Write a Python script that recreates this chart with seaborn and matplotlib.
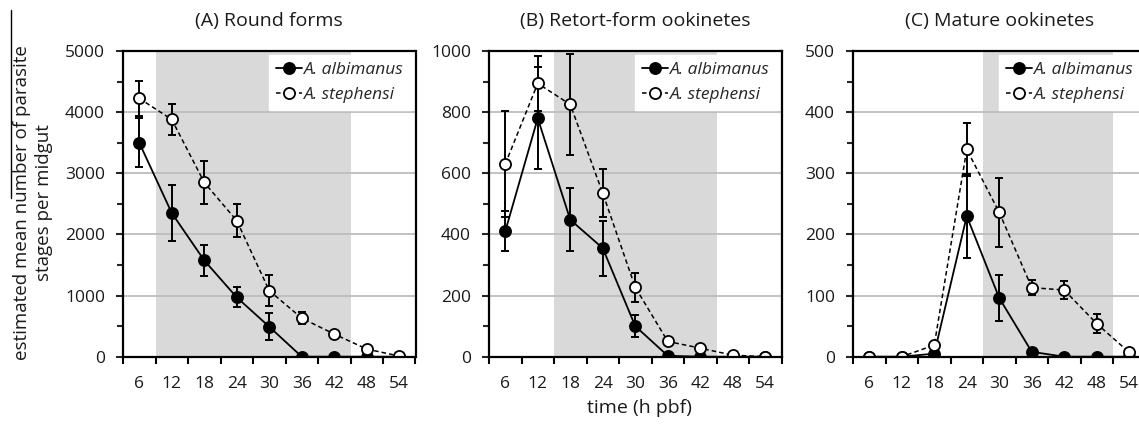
import numpy as np
import pandas as pd
import matplotlib
matplotlib.use("Agg")
import matplotlib.pyplot as plt
from matplotlib.lines import Line2D
from matplotlib.ticker import MultipleLocator, FixedLocator, NullFormatter
import seaborn as sns

# ---------------- data ----------------
hours = [6, 12, 18, 24, 30, 36, 42, 48, 54]

A_alb = [3500, 2350, 1575, 970, 490, 0, 0, 0, 0]
A_alb_err = [400, 460, 260, 165, 220, 0, 0, 0, 0]
A_ste = [4225, 3880, 2850, 2225, 1080, 630, 370, 125, 10]
A_ste_err = [290, 255, 355, 275, 250, 100, 45, 35, 0]

B_alb = [410, 780, 448, 355, 100, 3, 0, 0, 0]
B_alb_err = [65, 167, 103, 90, 35, 0, 0, 0, 0]
B_ste = [630, 894, 825, 535, 227, 50, 28, 5, 0]
B_ste_err = [173, 90, 165, 78, 48, 8, 5, 0, 0]

C_alb = [0, 0, 5, 230, 96, 8, 0, 0, 0]
C_alb_err = [0, 0, 3, 69, 37, 3, 0, 0, 0]
C_ste = [0, 0, 19, 339, 236, 113, 109, 54, 7]
C_ste_err = [0, 0, 4, 44, 57, 12, 14, 16, 3]

titles = ["(A) Round forms", "(B) Retort-form ookinetes", "(C) Mature ookinetes"]
ymax = [5000, 1000, 500]
ymajor = [1000, 200, 100]
yminor = [500, 100, 50]
shade = [(9, 45), (15, 45), (27, 51)]
series_names = ["A. albimanus", "A. stephensi"]
xlabel = "time (h pbf)"
ylabel = "estimated mean number of parasite\nstages per midgut"

# ---------------- style ----------------
sns.set_style("ticks")
plt.rcParams['font.family'] = ['Open Sans', 'DejaVu Sans']

W, H = 1139, 426
fig = plt.figure(figsize=(W / 100, H / 100), dpi=100)

lefts = [123, 489, 853]
ax_w = 292.5
ax_bottom = 356.7
ax_h = 305.7

panels = [(A_alb, A_alb_err, A_ste, A_ste_err),
          (B_alb, B_alb_err, B_ste, B_ste_err),
          (C_alb, C_alb_err, C_ste, C_ste_err)]

TXT = "#1a1a1a"

for i, (alb, alb_e, ste, ste_e) in enumerate(panels):
    ax = fig.add_axes([lefts[i] / W, 1 - ax_bottom / H, ax_w / W, ax_h / H])
    ax.set_xlim(3, 57)
    ax.set_ylim(0, ymax[i])

    ax.axvspan(shade[i][0], shade[i][1], color="#d9d9d9", lw=0, zorder=0)
    ax.set_axisbelow(False)
    for yv in np.arange(ymajor[i], ymax[i], ymajor[i]):
        ax.axhline(yv, color="#bdbdbd", lw=1.3, zorder=0.5)

    df = pd.DataFrame({"hours": hours, "alb": alb, "alb_e": alb_e,
                       "ste": ste, "ste_e": ste_e})

    # error bars
    for col, ecol in [("alb", "alb_e"), ("ste", "ste_e")]:
        sub = df[df[ecol] > 0]
        ax.errorbar(sub["hours"], sub[col], yerr=sub[ecol], fmt="none",
                    ecolor="black", elinewidth=1.4, capsize=3, capthick=1.4,
                    zorder=2)

    sns.lineplot(data=df, x="hours", y="alb", ax=ax, color="black",
                 lw=1.3, marker="o", markersize=8, markerfacecolor="black",
                 markeredgecolor="black", markeredgewidth=1.3, zorder=3,
                 label=series_names[0])
    sns.lineplot(data=df, x="hours", y="ste", ax=ax, color="black",
                 lw=1.1, linestyle=(0, (3, 2)), marker="o", markersize=8,
                 markerfacecolor="white", markeredgecolor="black",
                 markeredgewidth=1.3, zorder=4, label=series_names[1])

    # axes formatting
    ax.xaxis.set_major_locator(FixedLocator(np.arange(3, 58, 6)))
    ax.xaxis.set_major_formatter(NullFormatter())
    ax.set_xticks(hours, minor=True)
    ax.set_xticklabels([str(h) for h in hours], minor=True)
    ax.tick_params(axis="x", which="major", direction="out", length=5,
                   width=1.5, color="black")
    ax.tick_params(axis="x", which="minor", length=0, pad=14,
                   labelsize=12.5, labelcolor=TXT)

    ax.yaxis.set_major_locator(MultipleLocator(ymajor[i]))
    ax.yaxis.set_minor_locator(MultipleLocator(yminor[i]))
    ax.tick_params(axis="y", which="major", direction="out", length=5,
                   width=1.5, pad=8, labelsize=12.5, labelcolor=TXT)
    ax.tick_params(axis="y", which="minor", direction="out", length=4,
                   width=1.5)

    for s in ax.spines.values():
        s.set_visible(True)
        s.set_color("black")
        s.set_linewidth(1.6)
        s.set_zorder(5)

    ax.set_xlabel("")
    ax.set_ylabel("")
    ax.set_title(titles[i], fontsize=14, pad=18, color=TXT)

    leg = ax.legend(loc="upper right", frameon=True, fancybox=False,
                    framealpha=1, edgecolor="white", facecolor="white",
                    borderaxespad=0.25, handlelength=1.5, handletextpad=0.15,
                    labelspacing=0.5, borderpad=0.4,
                    prop={"style": "italic", "size": 12.5})
    leg.set_zorder(6)

fig.text(639 / W, 1 - 408 / H, xlabel, ha="center", va="center",
         fontsize=14, color=TXT)
fig.text(33 / W, 1 - 203 / H, ylabel, ha="center", va="center",
         rotation=90, fontsize=13.5, linespacing=1.3, color=TXT,
         multialignment="center")
fig.add_artist(Line2D([10.5 / W, 10.5 / W], [1 - 10 / H, 1 - 198 / H],
                      color="black", lw=1.0))

fig.savefig("out.png", dpi=100)
